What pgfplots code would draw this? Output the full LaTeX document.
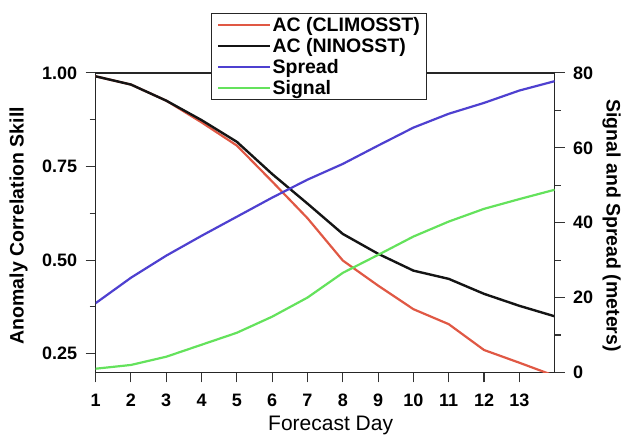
\documentclass[border=0pt]{standalone}
\usepackage{fontspec}
\setmainfont{Liberation Sans}
\usepackage{pgfplots}
\pgfplotsset{compat=1.18}

\definecolor{acred}{RGB}{224,88,68}
\definecolor{acblack}{RGB}{20,20,20}
\definecolor{spblue}{RGB}{78,64,208}
\definecolor{sggreen}{RGB}{100,226,92}

\pgfplotsset{
  common/.style={
    width=459.3pt, height=299.7pt, scale only axis,
    at={(0,0)}, anchor=south west,
    xmin=1, xmax=14,
    tick align=outside,
    major tick length=10pt, minor tick length=6pt,
    every tick/.style={line width=1.1pt, black!80},
    axis line style={line width=1.2pt, black!85},
    tick label style={font=\fontsize{18}{20}\selectfont\bfseries},
    /pgf/number format/assume math mode=true,
  },
}

\begin{document}
\begin{tikzpicture}
\begin{axis}[common,
  ymin=0.2, ymax=1.0,
  xtick={1,...,13}, xtick pos=bottom, ytick pos=left,
  ytick={0.25,0.5,0.75,1}, yticklabels={0.25,0.50,0.75,1.00},
  minor ytick={0.375,0.625,0.875},
  xticklabel style={yshift=-8pt},
  yticklabel style={xshift=-5pt},
  xlabel={Forecast Day},
  xlabel style={at={(axis description cs:0.512,-0.177)}, anchor=center,
                font=\fontsize{21}{24}\selectfont},
  ylabel={Anomaly Correlation Skill},
  ylabel style={at={(axis description cs:-0.168,0.49)}, anchor=center,
                font=\fontsize{19.5}{22}\selectfont\bfseries},
]
\addplot[acred, line width=2.2pt] coordinates {
  (1,0.991) (2,0.969) (3,0.926) (4,0.868) (5,0.806) (6,0.710) (7,0.612)
  (8,0.499) (9,0.432) (10,0.369) (11,0.329) (12,0.260) (13,0.226) (14,0.191)
};
\addplot[acblack, line width=2.4pt] coordinates {
  (1,0.991) (2,0.969) (3,0.926) (4,0.874) (5,0.816) (6,0.730) (7,0.651)
  (8,0.570) (9,0.517) (10,0.472) (11,0.450) (12,0.410) (13,0.378) (14,0.350)
};
\end{axis}

\begin{axis}[common,
  ymin=0, ymax=80,
  axis x line=none, axis y line*=right,
  ytick={0,20,40,60,80}, minor ytick={10,30,50,70},
  yticklabel style={xshift=5pt},
  ylabel={Signal and Spread (meters)},
  ylabel style={at={(axis description cs:1.124,0.49)}, anchor=center, rotate=180,
                font=\fontsize{19.5}{22}\selectfont\bfseries},
  legend style={at={(axis description cs:0.487,1.2)}, anchor=north,
                draw=black!85, line width=1pt, fill=white,
                font=\fontsize{19.5}{20}\selectfont\bfseries,
                row sep=2.3pt, inner xsep=5pt, inner ysep=2.5pt,
                nodes={inner sep=1.5pt}},
  legend cell align=left,
  legend image code/.code={\draw[#1] (0pt,0pt) -- (52pt,0pt);},
]
\addlegendimage{acred, line width=2pt}
\addlegendentry{AC (CLIMOSST)}
\addlegendimage{acblack, line width=2pt}
\addlegendentry{AC (NINOSST)}
\addplot[spblue, line width=2.2pt] coordinates {
  (1,18.5) (2,25.3) (3,31.2) (4,36.5) (5,41.6) (6,46.7) (7,51.5)
  (8,55.7) (9,60.6) (10,65.4) (11,69.1) (12,72.0) (13,75.3) (14,77.8)
};
\addlegendentry{Spread}
\addplot[sggreen, line width=2.2pt] coordinates {
  (1,1.0) (2,2.0) (3,4.2) (4,7.4) (5,10.6) (6,14.9) (7,20.0)
  (8,26.6) (9,31.4) (10,36.3) (11,40.3) (12,43.7) (13,46.3) (14,48.8)
};
\addlegendentry{Signal}
\end{axis}
\path (-95.7pt,-64.3pt) rectangle (528.3pt,372.7pt);
\end{tikzpicture}
\end{document}
